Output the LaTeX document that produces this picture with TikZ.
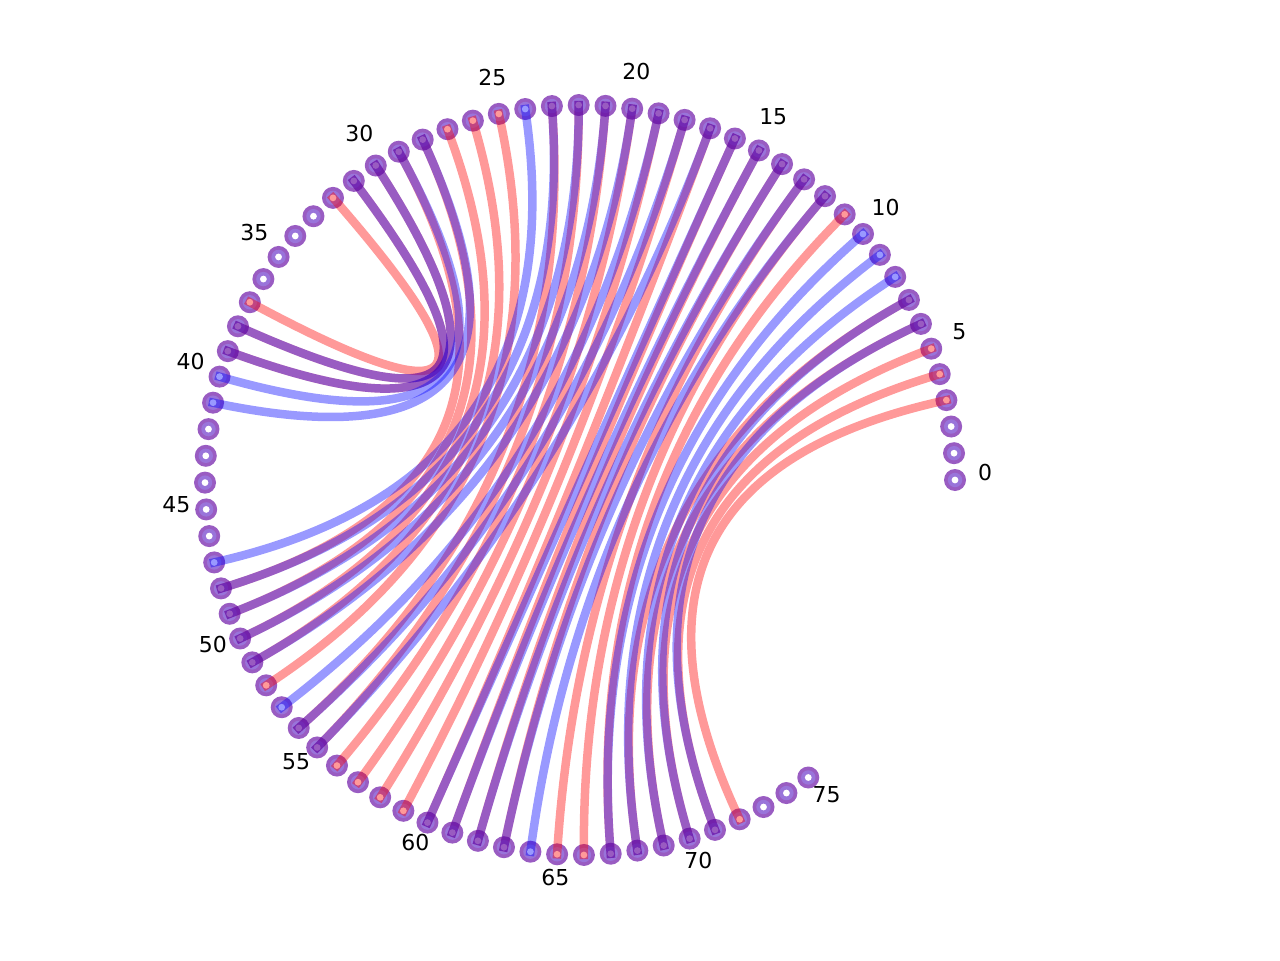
\documentclass[tikz,border=0pt]{standalone}
\usepackage{fontspec}
\setmainfont{DejaVu Sans}
\usetikzlibrary{calc}
\definecolor{ringout}{RGB}{153,92,194}
\definecolor{ringin}{RGB}{153,116,218}
\begin{document}
\begin{tikzpicture}[x=0.02cm,y=0.02cm,
  link/.style={line width=0.17cm,line cap=rect},
  redlink/.style={link,draw=red,draw opacity=0.4},
  bluelink/.style={link,draw=blue,draw opacity=0.4},
  lbl/.style={font=\fontsize{12.5}{15}\selectfont,inner sep=0pt}]
\useasboundingbox (-580,-480) rectangle (700,480);
\coordinate (c) at (0,0);
\foreach \i in {0,...,75} { \coordinate (n\i) at ({4.1*\i}:375); }
\foreach \i in {0,...,75} {
  \fill[ringout] (n\i) circle[radius=11];
  \fill[ringin] (n\i) circle[radius=7.2];
  \fill[white] (n\i) circle[radius=3.4];
}
\foreach \i in {0,5,...,75} { \node[lbl] (l\i) at ($({4.1*\i}:405)+(0,7)$) {\i}; }
\foreach \a/\b in {3/72,4/71,5/70,6/69,7/68,11/67,12/66,13/65,14/63,15/62,16/61,17/60,18/59,19/58,20/57,21/56,22/55,23/54,25/52,26/51,27/50,28/49,29/48,30/39,31/38,32/37}
  { \draw[redlink] (n\a) .. controls ($(n\a)!2/3!(c)$) and ($(n\b)!2/3!(c)$) .. (n\b); }
\foreach \a/\b in {6/71,7/70,8/69,9/68,10/67,12/64,13/63,14/62,15/61,16/60,17/55,18/54,19/53,20/51,21/50,22/49,23/48,24/47,28/41,29/40,30/39,31/38}
  { \draw[bluelink] (n\a) .. controls ($(n\a)!2/3!(c)$) and ($(n\b)!2/3!(c)$) .. (n\b); }
\end{tikzpicture}
\end{document}
